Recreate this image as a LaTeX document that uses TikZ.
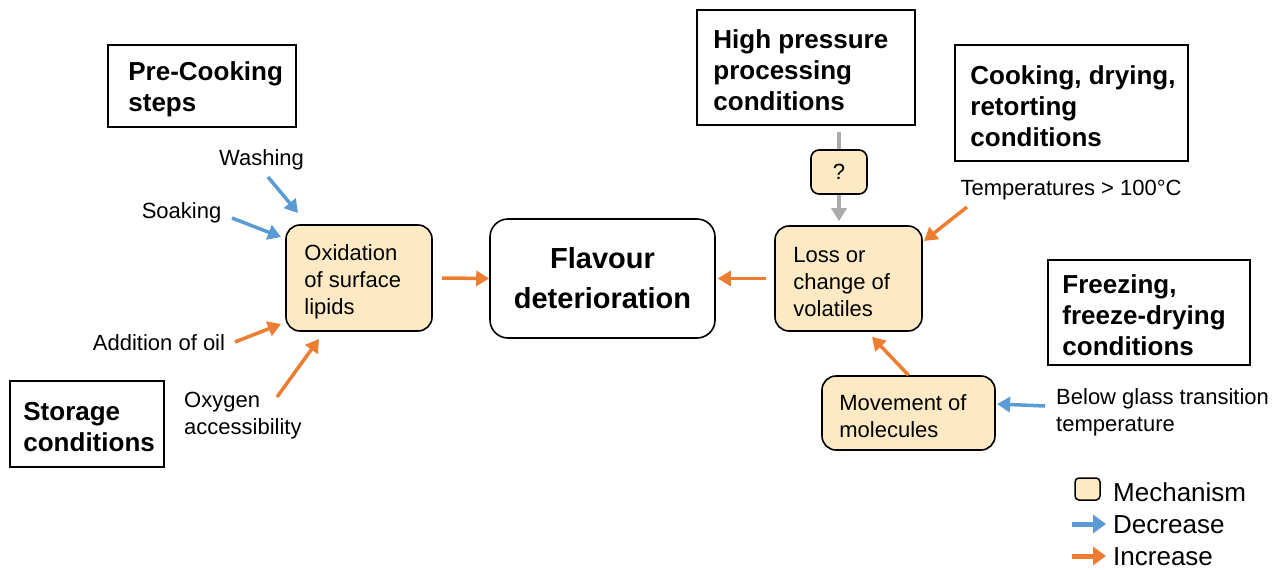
\documentclass[tikz,border=0pt]{standalone}
\usepackage{fontspec}
\setmainfont{Liberation Sans}
\usetikzlibrary{arrows.meta}
\definecolor{incc}{HTML}{ED7D31}
\definecolor{decc}{HTML}{5B9BD5}
\definecolor{grayc}{HTML}{ABABAB}
\definecolor{cream}{HTML}{FDE9C3}
\begin{document}
\begin{tikzpicture}[x=1pt,y=-1pt,
  cond/.style={draw=black, line width=1.6pt, fill=white, inner sep=0pt},
  mech/.style={draw=black, line width=1.6pt, fill=cream, rounded corners=14pt, inner sep=0pt},
  condtxt/.style={font=\fontsize{26}{31}\selectfont\bfseries, align=left, inner sep=0pt, anchor=west, yshift=-3pt},
  mtxt/.style={font=\fontsize{22}{27}\selectfont, align=left, inner sep=0pt, anchor=west, yshift=-3.5pt},
  lbl/.style={font=\fontsize{22}{27}\selectfont, align=left, inner sep=0pt, yshift=-2.5pt},
  legtxt/.style={font=\fontsize{26}{30}\selectfont, inner sep=0pt, anchor=west, yshift=-1.5pt},
  inc/.style={draw=incc, line width=3.5pt, -{Triangle[length=13pt,width=15pt]}},
  dec/.style={draw=decc, line width=3.5pt, -{Triangle[length=13pt,width=15pt]}},
  grayln/.style={draw=grayc, line width=3.5pt},
  grayarr/.style={draw=grayc, line width=3.5pt, -{Triangle[length=13pt,width=15pt]}},
  legarr/.style={line width=5pt, -{Triangle[length=13pt,width=18pt]}}
]
\useasboundingbox[fill=white] (0,0) rectangle (1285,570);

% condition boxes
\node[cond, minimum width=188pt, minimum height=82pt] (pc) at (202,86) {};
\node[condtxt] (pct) at ([xshift=21pt]pc.west) {Pre-Cooking\\steps};
\node[cond, minimum width=154pt, minimum height=86pt] (sc) at (87,424) {};
\node[condtxt] (sct) at ([xshift=14pt]sc.west) {Storage\\conditions};
\node[cond, minimum width=218pt, minimum height=115pt] (hp) at (806,67.5) {};
\node[condtxt] (hpt) at ([xshift=17pt]hp.west) {High pressure\\processing\\conditions};
\node[cond, minimum width=233pt, minimum height=116pt] (ck) at (1071.5,103) {};
\node[condtxt] (ckt) at ([xshift=16pt]ck.west) {Cooking, drying,\\retorting\\conditions};
\node[cond, minimum width=202pt, minimum height=105pt] (fz) at (1149,312.5) {};
\node[condtxt] (fzt) at ([xshift=15pt]fz.west) {Freezing,\\freeze-drying\\conditions};

% mechanism boxes
\node[mech, minimum width=146pt, minimum height=106pt] (ox) at (359,278) {};
\node[mtxt] (oxt) at ([xshift=19pt]ox.west) {Oxidation\\of surface\\lipids};
\node[mech, fill=white, rounded corners=18pt, minimum width=225pt, minimum height=119pt,
      font=\fontsize{29}{40}\selectfont\bfseries, align=center] (fl) at (602.5,278.5) {Flavour\\deterioration};
\node[mech, minimum width=147pt, minimum height=105pt] (ls) at (848.5,278.5) {};
\node[mtxt] (lst) at ([xshift=19pt]ls.west) {Loss or\\change of\\volatiles};
\node[mech, rounded corners=8pt, minimum width=56pt, minimum height=44pt,
      font=\fontsize{22}{27}\selectfont] (q) at (839,172) {?};
\node[mech, minimum width=173pt, minimum height=74pt] (mv) at (908.5,413) {};
\node[mtxt] (mvt) at ([xshift=18pt]mv.west) {Movement of\\molecules};

% factor labels
\node[lbl] (wa) at (261.5,157) {Washing};
\node[lbl] (so) at (181.5,210) {Soaking};
\node[lbl] (ad) at (159,340) {Addition of oil};
\node[lbl, anchor=west] (oa) at (184,413) {Oxygen\\accessibility};
\node[lbl] (te) at (1071,188) {Temperatures > 100°C};
\node[lbl, anchor=west] (bg) at (1056,410) {Below glass transition\\temperature};

% arrow end points
\coordinate (wa1) at (268,177); \coordinate (wa2) at (298,213);
\coordinate (so1) at (232,218); \coordinate (so2) at (281,237);
\coordinate (ad1) at (235,342); \coordinate (ad2) at (281,324);
\coordinate (oa1) at (277,397); \coordinate (oa2) at (319,339);
\coordinate (te1) at (967,207); \coordinate (te2) at (924,241);
\coordinate (bg1) at (1045,406); \coordinate (bg2) at (997,404);

% connectors
\draw[dec] (wa1) -- (wa2);
\draw[dec] (so1) -- (so2);
\draw[inc] (ad1) -- (ad2);
\draw[inc] (oa1) -- (oa2);
\draw[inc] ([xshift=9pt]ox.east) -- (fl.west);
\draw[inc] ([xshift=-8pt]ls.west) -- ([xshift=2pt]fl.east);
\draw[grayln] ([yshift=17pt]q.north) -- (q.north);
\draw[grayarr, shorten >=4pt] (q.south) -- (q.south |- ls.north);
\draw[inc] (te1) -- (te2);
\draw[inc] (mv.north) -- ([xshift=23.5pt,yshift=-5pt]ls.south);
\draw[dec] (bg1) -- (bg2);

% legend
\node[draw=black, line width=1.5pt, fill=cream, rounded corners=4pt, minimum width=25pt, minimum height=22pt, inner sep=0pt] (lgm) at (1087.5,489) {};
\node[legtxt] (lgmt) at (1113,491) {Mechanism};
\coordinate (lgd1) at (1072,524); \coordinate (lgd2) at (1106,524);
\draw[legarr, draw=decc] (lgd1) -- (lgd2);
\node[legtxt] (lgdt) at (1113,523) {Decrease};
\coordinate (lgi1) at (1072,556); \coordinate (lgi2) at (1106,556);
\draw[legarr, draw=incc] (lgi1) -- (lgi2);
\node[legtxt] (lgit) at (1113,555) {Increase};
\end{tikzpicture}
\end{document}
